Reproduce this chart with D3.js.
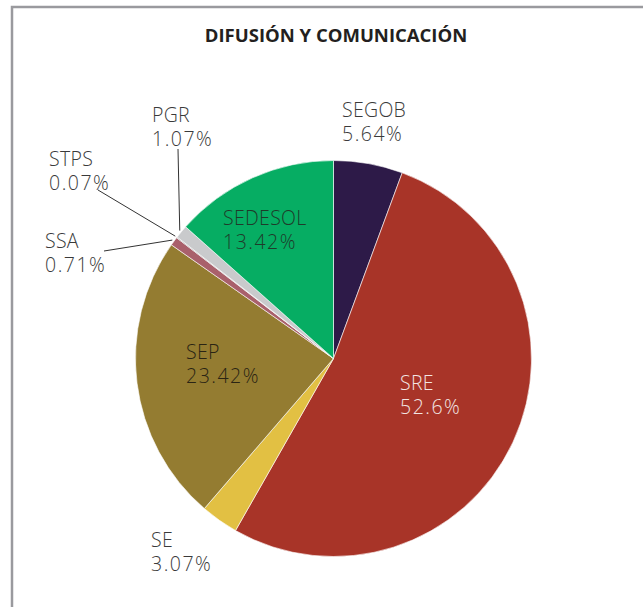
<!DOCTYPE html>
<html>
<head>
<meta charset="utf-8">
<script src="https://cdn.jsdelivr.net/npm/d3@7"></script>
<style>
  body { margin: 0; background: #fff; }
  text { font-family: "Open Sans", "DejaVu Sans", sans-serif; }
</style>
</head>
<body>
<div id="chart"></div>
<script>
// data
var categories = ["SEGOB", "SRE", "SE", "SEP", "SSA", "STPS", "PGR", "SEDESOL"];
var values = [5.64, 52.6, 3.07, 23.42, 0.71, 0.07, 1.07, 13.42];
var valueLabels = ["5.64%", "52.6%", "3.07%", "23.42%", "0.71%", "0.07%", "1.07%", "13.42%"];
var colors = ["#2d1a48", "#a83428", "#e2c043", "#947c31", "#a9606b", "#8a8a8a", "#c9cacc", "#06ad63"];

var svgWidth = 643;
var svgHeight = 607;

var svg = d3.select("#chart")
  .append("svg")
  .attr("width", svgWidth)
  .attr("height", svgHeight);

// frame
svg.append("path")
  .attr("d", "M12,607 V7 H643")
  .attr("fill", "none")
  .attr("stroke", "#9a9a9e")
  .attr("stroke-width", 2.5);

svg.append("text")
  .attr("x", 336)
  .attr("y", 42)
  .attr("text-anchor", "middle")
  .attr("font-size", "18.5px")
  .attr("font-weight", "bold")
  .attr("fill", "#231f20")
  .text("DIFUSIÓN Y COMUNICACIÓN");

var cx = 333.5, cy = 358.5, radius = 198;

var pieData = categories.map((c, i) => ({ name: c, value: values[i], label: valueLabels[i], color: colors[i] }));

var pie = d3.pie().sort(null).value(d => d.value);
var arc = d3.arc().innerRadius(0).outerRadius(radius);

var pieGroup = svg.append("g")
  .attr("transform", `translate(${cx}, ${cy})`);

var arcs = pie(pieData);

pieGroup.selectAll("path")
  .data(arcs)
  .enter()
  .append("path")
  .attr("d", arc)
  .attr("fill", d => d.data.color)
  .attr("stroke", "#fff")
  .attr("stroke-width", 0.6);

// label positions (text anchor, left aligned)
var labelPos = {
  SEGOB: [342, 117, "#3a3a3a"],
  SRE: [400, 390, "#f3e6e4"],
  SE: [151, 547, "#3a3a3a"],
  SEP: [186, 359, "#2a2414"],
  SSA: [45, 248, "#3a3a3a"],
  STPS: [49, 166, "#3a3a3a"],
  PGR: [152, 122, "#3a3a3a"],
  SEDESOL: [223, 225, "#1f3b2a"]
};

// leader lines for small slices
var leaders = { SSA: [104, 251], STPS: [98, 190], PGR: [178, 149] };
var outerArc = d3.arc().innerRadius(radius + 2).outerRadius(radius + 2);

pieGroup.selectAll(".leader")
  .data(arcs.filter(d => leaders[d.data.name]))
  .enter()
  .append("line")
  .attr("class", "leader")
  .attr("x1", d => leaders[d.data.name][0] - cx)
  .attr("y1", d => leaders[d.data.name][1] - cy)
  .attr("x2", d => outerArc.centroid(d)[0])
  .attr("y2", d => outerArc.centroid(d)[1])
  .attr("stroke", "#333")
  .attr("stroke-width", 1);

var labels = svg.selectAll(".slice-label")
  .data(pieData)
  .enter()
  .append("text")
  .attr("class", "slice-label")
  .attr("x", d => labelPos[d.name][0])
  .attr("y", d => labelPos[d.name][1])
  .attr("fill", d => labelPos[d.name][2])
  .attr("font-size", "19.5px")
  .attr("font-weight", 300);

labels.append("tspan")
  .attr("x", d => labelPos[d.name][0])
  .attr("letter-spacing", "0.3px")
  .text(d => d.name);

labels.append("tspan")
  .attr("x", d => labelPos[d.name][0])
  .attr("dy", 24)
  .attr("letter-spacing", "1.5px")
  .text(d => d.label);
</script>
</body>
</html>
